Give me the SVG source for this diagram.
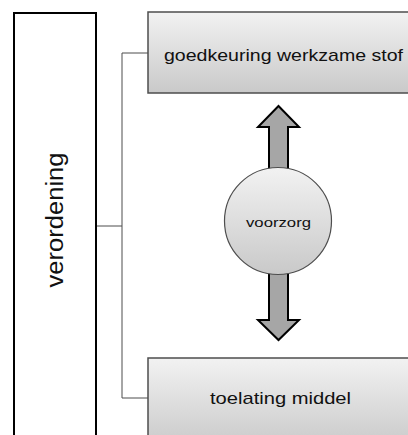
<svg xmlns="http://www.w3.org/2000/svg" width="408" height="435" viewBox="0 0 408 435">
<defs>
<linearGradient id="g" x1="0" y1="0" x2="0" y2="1">
<stop offset="0" stop-color="#f2f2f2"/>
<stop offset="1" stop-color="#c9c9c9"/>
</linearGradient>
<style>
.box{fill:url(#g);stroke:#4d4d4d;stroke-width:1.5}
.arr{fill:#a6a6a6;stroke:#000;stroke-width:2;stroke-linejoin:miter}
.con{fill:none;stroke:#4d4d4d;stroke-width:1}
.t{font-family:"Liberation Sans",Arial,sans-serif;fill:#111}
</style>
</defs>
<rect width="408" height="435" fill="#fff"/>
<g id="connectors">
<polyline class="con" points="148,53 122,53 122,398 148,398"/>
<line class="con" x1="96" y1="226" x2="122" y2="226"/>
</g>
<g id="verordening">
<rect x="14" y="13" width="82" height="430" fill="#fff" stroke="#000" stroke-width="2"/>
<text class="t" transform="translate(63,220) rotate(-90)" text-anchor="middle" font-size="23" textLength="135" lengthAdjust="spacingAndGlyphs">verordening</text>
</g>
<g id="arrows">
<polygon class="arr" points="278.5,106 299,127 288,127 288,175 269,175 269,127 258,127"/>
<polygon class="arr" points="269,265 288,265 288,320 299,320 278.5,340 258,320 269,320"/>
</g>
<g id="goedkeuring">
<rect class="box" x="148" y="12" width="280" height="81"/>
<text class="t" x="283.5" y="61" text-anchor="middle" font-size="17" textLength="239" lengthAdjust="spacingAndGlyphs">goedkeuring werkzame stof</text>
</g>
<g id="voorzorg">
<circle cx="278" cy="221" r="53.5" fill="url(#g)" stroke="#4d4d4d" stroke-width="1.2"/>
<text class="t" x="278.5" y="227" text-anchor="middle" font-size="13.5" textLength="65" lengthAdjust="spacingAndGlyphs">voorzorg</text>
</g>
<g id="toelating">
<rect class="box" x="148" y="358" width="280" height="90"/>
<text class="t" x="280.5" y="404" text-anchor="middle" font-size="17" textLength="141" lengthAdjust="spacingAndGlyphs">toelating middel</text>
</g>
</svg>
